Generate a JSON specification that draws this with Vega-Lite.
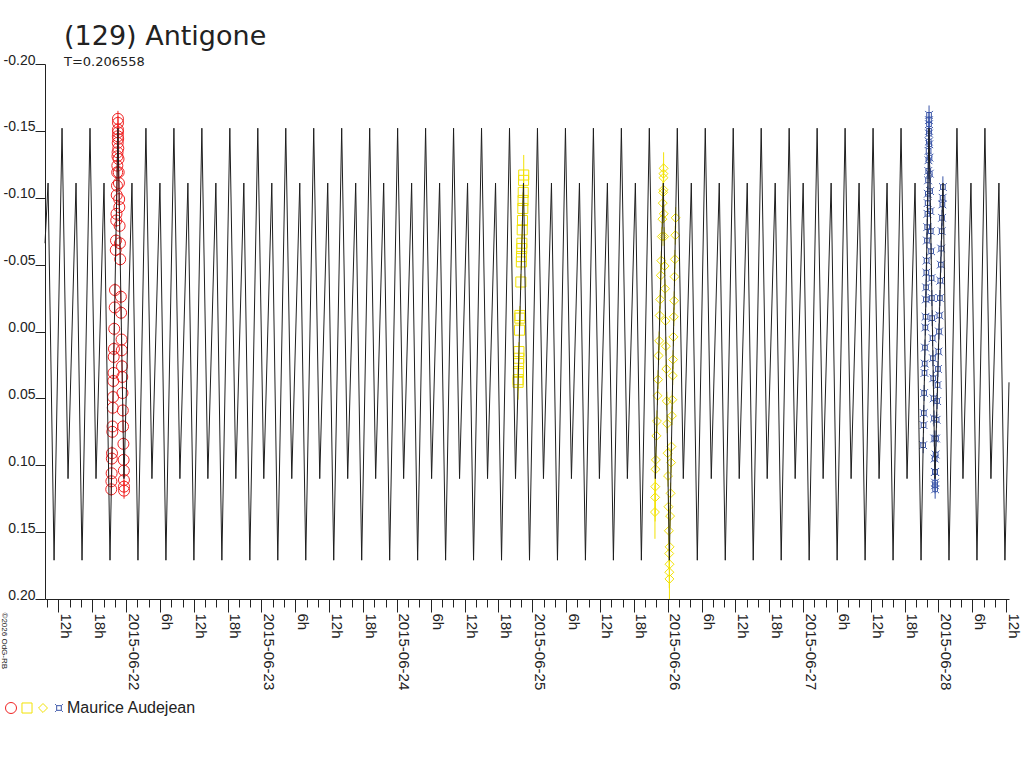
{
  "$schema": "https://vega.github.io/schema/vega-lite/v6.json",
  "description": "Light curve of (129) Antigone, period 0.206558 d, with four observing sessions by Maurice Audejean.",
  "width": 964,
  "height": 535,
  "autosize": {"type": "none"},
  "padding": {"left": 45, "top": 64, "right": 15, "bottom": 169},
  "background": "white",
  "config": {"view": {"stroke": null}, "font": "Liberation Sans"},
  "title": {
    "text": "(129) Antigone",
    "subtitle": "T=0.206558",
    "anchor": "start",
    "frame": "group",
    "dx": 19,
    "offset": -17,
    "fontSize": 27,
    "fontWeight": "normal",
    "font": "DejaVu Sans",
    "color": "#222",
    "subtitleFont": "DejaVu Sans",
    "subtitleFontSize": 13,
    "subtitleColor": "#222",
    "subtitlePadding": 5
  },
  "datasets": {
    "curve": [
      {"d": -0.599, "m": -0.066},
      {"d": -0.5763, "m": -0.111}, {"d": -0.532, "m": 0.171},
      {"d": -0.4732, "m": -0.152}, {"d": -0.4289, "m": 0.11}, {"d": -0.3698, "m": -0.111}, {"d": -0.3255, "m": 0.171},
      {"d": -0.2666, "m": -0.152}, {"d": -0.2223, "m": 0.11}, {"d": -0.1632, "m": -0.111}, {"d": -0.1189, "m": 0.171},
      {"d": -0.0601, "m": -0.152}, {"d": -0.0157, "m": 0.11}, {"d": 0.0433, "m": -0.111}, {"d": 0.0876, "m": 0.171},
      {"d": 0.1465, "m": -0.152}, {"d": 0.1908, "m": 0.11}, {"d": 0.2499, "m": -0.111}, {"d": 0.2942, "m": 0.171},
      {"d": 0.3531, "m": -0.152}, {"d": 0.3974, "m": 0.11}, {"d": 0.4564, "m": -0.111}, {"d": 0.5008, "m": 0.171},
      {"d": 0.5596, "m": -0.152}, {"d": 0.6039, "m": 0.11}, {"d": 0.663, "m": -0.111}, {"d": 0.7073, "m": 0.171},
      {"d": 0.7662, "m": -0.152}, {"d": 0.8105, "m": 0.11}, {"d": 0.8696, "m": -0.111}, {"d": 0.9139, "m": 0.171},
      {"d": 0.9727, "m": -0.152}, {"d": 1.017, "m": 0.11}, {"d": 1.0761, "m": -0.111}, {"d": 1.1204, "m": 0.171},
      {"d": 1.1793, "m": -0.152}, {"d": 1.2236, "m": 0.11}, {"d": 1.2827, "m": -0.111}, {"d": 1.327, "m": 0.171},
      {"d": 1.3858, "m": -0.152}, {"d": 1.4302, "m": 0.11}, {"d": 1.4892, "m": -0.111}, {"d": 1.5335, "m": 0.171},
      {"d": 1.5924, "m": -0.152}, {"d": 1.6367, "m": 0.11}, {"d": 1.6958, "m": -0.111}, {"d": 1.7401, "m": 0.171},
      {"d": 1.799, "m": -0.152}, {"d": 1.8433, "m": 0.11}, {"d": 1.9024, "m": -0.111}, {"d": 1.9467, "m": 0.171},
      {"d": 2.0055, "m": -0.152}, {"d": 2.0498, "m": 0.11}, {"d": 2.1089, "m": -0.111}, {"d": 2.1532, "m": 0.171},
      {"d": 2.2121, "m": -0.152}, {"d": 2.2564, "m": 0.11}, {"d": 2.3155, "m": -0.111}, {"d": 2.3598, "m": 0.171},
      {"d": 2.4186, "m": -0.152}, {"d": 2.4629, "m": 0.11}, {"d": 2.522, "m": -0.111}, {"d": 2.5663, "m": 0.171},
      {"d": 2.6252, "m": -0.152}, {"d": 2.6695, "m": 0.11}, {"d": 2.7286, "m": -0.111}, {"d": 2.7729, "m": 0.171},
      {"d": 2.8318, "m": -0.152}, {"d": 2.8761, "m": 0.11}, {"d": 2.9351, "m": -0.111}, {"d": 2.9795, "m": 0.171},
      {"d": 3.0383, "m": -0.152}, {"d": 3.0826, "m": 0.11}, {"d": 3.1417, "m": -0.111}, {"d": 3.186, "m": 0.171},
      {"d": 3.2449, "m": -0.152}, {"d": 3.2892, "m": 0.11}, {"d": 3.3483, "m": -0.111}, {"d": 3.3926, "m": 0.171},
      {"d": 3.4514, "m": -0.152}, {"d": 3.4957, "m": 0.11}, {"d": 3.5548, "m": -0.111}, {"d": 3.5991, "m": 0.171},
      {"d": 3.658, "m": -0.152}, {"d": 3.7023, "m": 0.11}, {"d": 3.7614, "m": -0.111}, {"d": 3.8057, "m": 0.171},
      {"d": 3.8645, "m": -0.152}, {"d": 3.9089, "m": 0.11}, {"d": 3.9679, "m": -0.111}, {"d": 4.0122, "m": 0.171},
      {"d": 4.0711, "m": -0.152}, {"d": 4.1154, "m": 0.11}, {"d": 4.1745, "m": -0.111}, {"d": 4.2188, "m": 0.171},
      {"d": 4.2777, "m": -0.152}, {"d": 4.322, "m": 0.11}, {"d": 4.381, "m": -0.111}, {"d": 4.4254, "m": 0.171},
      {"d": 4.4842, "m": -0.152}, {"d": 4.5285, "m": 0.11}, {"d": 4.5876, "m": -0.111}, {"d": 4.6319, "m": 0.171},
      {"d": 4.6908, "m": -0.152}, {"d": 4.7351, "m": 0.11}, {"d": 4.7942, "m": -0.111}, {"d": 4.8385, "m": 0.171},
      {"d": 4.8973, "m": -0.152}, {"d": 4.9416, "m": 0.11}, {"d": 5.0007, "m": -0.111}, {"d": 5.045, "m": 0.171},
      {"d": 5.1039, "m": -0.152}, {"d": 5.1482, "m": 0.11}, {"d": 5.2073, "m": -0.111}, {"d": 5.2516, "m": 0.171},
      {"d": 5.3105, "m": -0.152}, {"d": 5.3548, "m": 0.11}, {"d": 5.4138, "m": -0.111}, {"d": 5.4582, "m": 0.171},
      {"d": 5.517, "m": -0.152}, {"d": 5.5613, "m": 0.11}, {"d": 5.6204, "m": -0.111}, {"d": 5.6647, "m": 0.171},
      {"d": 5.7236, "m": -0.152}, {"d": 5.7679, "m": 0.11}, {"d": 5.827, "m": -0.111}, {"d": 5.8713, "m": 0.171},
      {"d": 5.9301, "m": -0.152}, {"d": 5.9744, "m": 0.11}, {"d": 6.0335, "m": -0.111}, {"d": 6.0778, "m": 0.171},
      {"d": 6.1367, "m": -0.152}, {"d": 6.181, "m": 0.11}, {"d": 6.2401, "m": -0.111}, {"d": 6.2844, "m": 0.171},
      {"d": 6.3432, "m": -0.152}, {"d": 6.3875, "m": 0.11}, {"d": 6.4466, "m": -0.111}, {"d": 6.4909, "m": 0.171},
      {"d": 6.521, "m": 0.038}
    ],
    "obs": [
      {"s": "a", "d": -0.1096, "m": 0.118, "e": 0.005}, {"s": "a", "d": -0.1087, "m": 0.112, "e": 0.005},
      {"s": "a", "d": -0.1068, "m": 0.106, "e": 0.005}, {"s": "a", "d": -0.1055, "m": 0.095, "e": 0.005},
      {"s": "a", "d": -0.1041, "m": 0.091, "e": 0.005}, {"s": "a", "d": -0.1019, "m": 0.075, "e": 0.005},
      {"s": "a", "d": -0.1004, "m": 0.071, "e": 0.005}, {"s": "a", "d": -0.0986, "m": 0.057, "e": 0.005},
      {"s": "a", "d": -0.0964, "m": 0.049, "e": 0.005}, {"s": "a", "d": -0.0949, "m": 0.037, "e": 0.005},
      {"s": "a", "d": -0.0931, "m": 0.031, "e": 0.005}, {"s": "a", "d": -0.0916, "m": 0.019, "e": 0.005},
      {"s": "a", "d": -0.0898, "m": 0.013, "e": 0.005}, {"s": "a", "d": -0.0876, "m": -0.002, "e": 0.005},
      {"s": "a", "d": -0.084, "m": -0.018, "e": 0.005}, {"s": "a", "d": -0.0821, "m": -0.031, "e": 0.005},
      {"s": "a", "d": -0.0766, "m": -0.061, "e": 0.005}, {"s": "a", "d": -0.0748, "m": -0.068, "e": 0.005},
      {"s": "a", "d": -0.0726, "m": -0.083, "e": 0.005}, {"s": "a", "d": -0.0711, "m": -0.088, "e": 0.005},
      {"s": "a", "d": -0.0693, "m": -0.102, "e": 0.005}, {"s": "a", "d": -0.0675, "m": -0.109, "e": 0.005},
      {"s": "a", "d": -0.066, "m": -0.119, "e": 0.005}, {"s": "a", "d": -0.0647, "m": -0.124, "e": 0.005},
      {"s": "a", "d": -0.0638, "m": -0.131, "e": 0.005}, {"s": "a", "d": -0.0629, "m": -0.134, "e": 0.005},
      {"s": "a", "d": -0.062, "m": -0.141, "e": 0.005}, {"s": "a", "d": -0.0611, "m": -0.146, "e": 0.005},
      {"s": "a", "d": -0.0602, "m": -0.151, "e": 0.005}, {"s": "a", "d": -0.0598, "m": -0.156, "e": 0.005},
      {"s": "a", "d": -0.0601, "m": -0.159, "e": 0.006}, {"s": "a", "d": -0.0598, "m": -0.149, "e": 0.005},
      {"s": "a", "d": -0.0586, "m": -0.144, "e": 0.005}, {"s": "a", "d": -0.0577, "m": -0.137, "e": 0.005},
      {"s": "a", "d": -0.056, "m": -0.129, "e": 0.005}, {"s": "a", "d": -0.0547, "m": -0.119, "e": 0.005},
      {"s": "a", "d": -0.053, "m": -0.111, "e": 0.005}, {"s": "a", "d": -0.0513, "m": -0.099, "e": 0.005},
      {"s": "a", "d": -0.05, "m": -0.093, "e": 0.005}, {"s": "a", "d": -0.0479, "m": -0.079, "e": 0.005},
      {"s": "a", "d": -0.0454, "m": -0.066, "e": 0.005}, {"s": "a", "d": -0.0437, "m": -0.054, "e": 0.005},
      {"s": "a", "d": -0.0386, "m": -0.026, "e": 0.005}, {"s": "a", "d": -0.0369, "m": -0.014, "e": 0.005},
      {"s": "a", "d": -0.0336, "m": 0.006, "e": 0.005}, {"s": "a", "d": -0.0319, "m": 0.014, "e": 0.005},
      {"s": "a", "d": -0.0302, "m": 0.026, "e": 0.005}, {"s": "a", "d": -0.0285, "m": 0.034, "e": 0.005},
      {"s": "a", "d": -0.0268, "m": 0.046, "e": 0.005}, {"s": "a", "d": -0.0243, "m": 0.059, "e": 0.005},
      {"s": "a", "d": -0.0226, "m": 0.071, "e": 0.005}, {"s": "a", "d": -0.02, "m": 0.084, "e": 0.005},
      {"s": "a", "d": -0.0183, "m": 0.096, "e": 0.005}, {"s": "a", "d": -0.0166, "m": 0.104, "e": 0.005},
      {"s": "a", "d": -0.0158, "m": 0.111, "e": 0.005}, {"s": "a", "d": -0.0155, "m": 0.116, "e": 0.005},
      {"s": "a", "d": -0.0152, "m": 0.119, "e": 0.006},

      {"s": "b", "d": 2.9368, "m": -0.117, "e": 0.015}, {"s": "b", "d": 2.9357, "m": -0.113, "e": 0.008},
      {"s": "b", "d": 2.9333, "m": -0.104, "e": 0.006}, {"s": "b", "d": 2.9317, "m": -0.098, "e": 0.006},
      {"s": "b", "d": 2.9301, "m": -0.092, "e": 0.006}, {"s": "b", "d": 2.9277, "m": -0.083, "e": 0.006},
      {"s": "b", "d": 2.9258, "m": -0.076, "e": 0.007}, {"s": "b", "d": 2.9232, "m": -0.066, "e": 0.006},
      {"s": "b", "d": 2.9221, "m": -0.062, "e": 0.006}, {"s": "b", "d": 2.9205, "m": -0.056, "e": 0.006},
      {"s": "b", "d": 2.9194, "m": -0.052, "e": 0.006}, {"s": "b", "d": 2.9154, "m": -0.037, "e": 0.006},
      {"s": "b", "d": 2.9087, "m": -0.012, "e": 0.007}, {"s": "b", "d": 2.9082, "m": -0.01, "e": 0.006},
      {"s": "b", "d": 2.9058, "m": -0.001, "e": 0.006}, {"s": "b", "d": 2.9015, "m": 0.015, "e": 0.007},
      {"s": "b", "d": 2.9002, "m": 0.02, "e": 0.006}, {"s": "b", "d": 2.8991, "m": 0.024, "e": 0.006},
      {"s": "b", "d": 2.8975, "m": 0.03, "e": 0.006}, {"s": "b", "d": 2.8959, "m": 0.036, "e": 0.008},
      {"s": "b", "d": 2.8953, "m": 0.038, "e": 0.013},

      {"s": "c", "d": 3.906, "m": 0.135, "e": 0.02}, {"s": "c", "d": 3.9075, "m": 0.124, "e": 0.018},
      {"s": "c", "d": 3.9085, "m": 0.116, "e": 0.02}, {"s": "c", "d": 3.9102, "m": 0.103, "e": 0.012},
      {"s": "c", "d": 3.9129, "m": 0.096, "e": 0.01}, {"s": "c", "d": 3.9169, "m": 0.078, "e": 0.008},
      {"s": "c", "d": 3.9209, "m": 0.067, "e": 0.008}, {"s": "c", "d": 3.9249, "m": 0.048, "e": 0.007},
      {"s": "c", "d": 3.929, "m": 0.036, "e": 0.007}, {"s": "c", "d": 3.933, "m": 0.018, "e": 0.007},
      {"s": "c", "d": 3.937, "m": 0.007, "e": 0.007}, {"s": "c", "d": 3.941, "m": -0.012, "e": 0.007},
      {"s": "c", "d": 3.945, "m": -0.024, "e": 0.007}, {"s": "c", "d": 3.949, "m": -0.042, "e": 0.007},
      {"s": "c", "d": 3.953, "m": -0.053, "e": 0.007}, {"s": "c", "d": 3.957, "m": -0.071, "e": 0.007},
      {"s": "c", "d": 3.961, "m": -0.084, "e": 0.007}, {"s": "c", "d": 3.9637, "m": -0.096, "e": 0.008},
      {"s": "c", "d": 3.9664, "m": -0.104, "e": 0.008}, {"s": "c", "d": 3.969, "m": -0.115, "e": 0.01},
      {"s": "c", "d": 3.97, "m": -0.122, "e": 0.012},
      {"s": "c", "d": 3.9685, "m": -0.118, "e": 0.008}, {"s": "c", "d": 3.9688, "m": -0.106, "e": 0.007},
      {"s": "c", "d": 3.9712, "m": -0.088, "e": 0.007}, {"s": "c", "d": 3.9743, "m": -0.071, "e": 0.007},
      {"s": "c", "d": 3.9775, "m": -0.049, "e": 0.007}, {"s": "c", "d": 3.9806, "m": -0.032, "e": 0.007},
      {"s": "c", "d": 3.9838, "m": -0.008, "e": 0.007}, {"s": "c", "d": 3.9869, "m": 0.011, "e": 0.007},
      {"s": "c", "d": 3.9901, "m": 0.028, "e": 0.007}, {"s": "c", "d": 3.9932, "m": 0.052, "e": 0.007},
      {"s": "c", "d": 3.9963, "m": 0.069, "e": 0.007}, {"s": "c", "d": 3.9995, "m": 0.091, "e": 0.008},
      {"s": "c", "d": 4.0026, "m": 0.108, "e": 0.008}, {"s": "c", "d": 4.0058, "m": 0.131, "e": 0.009},
      {"s": "c", "d": 4.0089, "m": 0.149, "e": 0.01}, {"s": "c", "d": 4.0113, "m": 0.166, "e": 0.012},
      {"s": "c", "d": 4.0122, "m": 0.18, "e": 0.012}, {"s": "c", "d": 4.013, "m": 0.185, "e": 0.015},
      {"s": "c", "d": 4.0135, "m": 0.174, "e": 0.01}, {"s": "c", "d": 4.0142, "m": 0.161, "e": 0.009},
      {"s": "c", "d": 4.0179, "m": 0.138, "e": 0.008}, {"s": "c", "d": 4.0215, "m": 0.121, "e": 0.008},
      {"s": "c", "d": 4.0252, "m": 0.098, "e": 0.008}, {"s": "c", "d": 4.0279, "m": 0.086, "e": 0.007},
      {"s": "c", "d": 4.0316, "m": 0.063, "e": 0.007}, {"s": "c", "d": 4.0343, "m": 0.051, "e": 0.007},
      {"s": "c", "d": 4.0371, "m": 0.033, "e": 0.007}, {"s": "c", "d": 4.0398, "m": 0.021, "e": 0.007},
      {"s": "c", "d": 4.0426, "m": 0.004, "e": 0.007}, {"s": "c", "d": 4.0453, "m": -0.011, "e": 0.007},
      {"s": "c", "d": 4.0481, "m": -0.023, "e": 0.007}, {"s": "c", "d": 4.0508, "m": -0.041, "e": 0.007},
      {"s": "c", "d": 4.0536, "m": -0.054, "e": 0.007}, {"s": "c", "d": 4.0563, "m": -0.072, "e": 0.007},
      {"s": "c", "d": 4.059, "m": -0.085, "e": 0.008},

      {"s": "d", "d": 5.887, "m": 0.085, "e": 0.006}, {"s": "d", "d": 5.8898, "m": 0.07, "e": 0.006},
      {"s": "d", "d": 5.8916, "m": 0.061, "e": 0.006}, {"s": "d", "d": 5.8942, "m": 0.046, "e": 0.006},
      {"s": "d", "d": 5.8969, "m": 0.031, "e": 0.006}, {"s": "d", "d": 5.8982, "m": 0.024, "e": 0.006},
      {"s": "d", "d": 5.9004, "m": 0.012, "e": 0.006}, {"s": "d", "d": 5.9031, "m": -0.003, "e": 0.006},
      {"s": "d", "d": 5.9046, "m": -0.011, "e": 0.006}, {"s": "d", "d": 5.907, "m": -0.024, "e": 0.006},
      {"s": "d", "d": 5.9086, "m": -0.033, "e": 0.006}, {"s": "d", "d": 5.9106, "m": -0.044, "e": 0.006},
      {"s": "d", "d": 5.9123, "m": -0.053, "e": 0.006}, {"s": "d", "d": 5.915, "m": -0.068, "e": 0.006},
      {"s": "d", "d": 5.9169, "m": -0.078, "e": 0.006}, {"s": "d", "d": 5.9187, "m": -0.088, "e": 0.006},
      {"s": "d", "d": 5.9202, "m": -0.096, "e": 0.006}, {"s": "d", "d": 5.9214, "m": -0.103, "e": 0.006},
      {"s": "d", "d": 5.9233, "m": -0.113, "e": 0.006}, {"s": "d", "d": 5.9246, "m": -0.12, "e": 0.006},
      {"s": "d", "d": 5.926, "m": -0.128, "e": 0.006}, {"s": "d", "d": 5.9273, "m": -0.135, "e": 0.006},
      {"s": "d", "d": 5.9286, "m": -0.142, "e": 0.006}, {"s": "d", "d": 5.9297, "m": -0.148, "e": 0.006},
      {"s": "d", "d": 5.9302, "m": -0.155, "e": 0.006}, {"s": "d", "d": 5.9305, "m": -0.162, "e": 0.007},
      {"s": "d", "d": 5.93, "m": -0.158, "e": 0.006}, {"s": "d", "d": 5.9304, "m": -0.15, "e": 0.006},
      {"s": "d", "d": 5.9321, "m": -0.14, "e": 0.006}, {"s": "d", "d": 5.9338, "m": -0.13, "e": 0.006},
      {"s": "d", "d": 5.9359, "m": -0.118, "e": 0.006}, {"s": "d", "d": 5.9381, "m": -0.105, "e": 0.006},
      {"s": "d", "d": 5.9406, "m": -0.09, "e": 0.006}, {"s": "d", "d": 5.9431, "m": -0.075, "e": 0.006},
      {"s": "d", "d": 5.9457, "m": -0.06, "e": 0.006}, {"s": "d", "d": 5.949, "m": -0.04, "e": 0.006},
      {"s": "d", "d": 5.9516, "m": -0.025, "e": 0.006}, {"s": "d", "d": 5.9541, "m": -0.01, "e": 0.006},
      {"s": "d", "d": 5.9567, "m": 0.005, "e": 0.006}, {"s": "d", "d": 5.9592, "m": 0.02, "e": 0.006},
      {"s": "d", "d": 5.9617, "m": 0.035, "e": 0.006}, {"s": "d", "d": 5.9643, "m": 0.05, "e": 0.006},
      {"s": "d", "d": 5.9668, "m": 0.065, "e": 0.006}, {"s": "d", "d": 5.9693, "m": 0.08, "e": 0.006},
      {"s": "d", "d": 5.9719, "m": 0.095, "e": 0.006}, {"s": "d", "d": 5.9736, "m": 0.105, "e": 0.006},
      {"s": "d", "d": 5.975, "m": 0.113, "e": 0.006}, {"s": "d", "d": 5.9755, "m": 0.118, "e": 0.007},
      {"s": "d", "d": 5.9748, "m": 0.115, "e": 0.006}, {"s": "d", "d": 5.9757, "m": 0.105, "e": 0.006},
      {"s": "d", "d": 5.9792, "m": 0.092, "e": 0.006}, {"s": "d", "d": 5.9824, "m": 0.08, "e": 0.006},
      {"s": "d", "d": 5.9862, "m": 0.066, "e": 0.006}, {"s": "d", "d": 5.9899, "m": 0.052, "e": 0.006},
      {"s": "d", "d": 5.9931, "m": 0.04, "e": 0.006}, {"s": "d", "d": 5.9963, "m": 0.028, "e": 0.006},
      {"s": "d", "d": 5.9998, "m": 0.015, "e": 0.006}, {"s": "d", "d": 6.0038, "m": 0.0, "e": 0.006},
      {"s": "d", "d": 6.007, "m": -0.012, "e": 0.006}, {"s": "d", "d": 6.0105, "m": -0.025, "e": 0.006},
      {"s": "d", "d": 6.014, "m": -0.038, "e": 0.006}, {"s": "d", "d": 6.0172, "m": -0.05, "e": 0.006},
      {"s": "d", "d": 6.0204, "m": -0.062, "e": 0.006}, {"s": "d", "d": 6.0239, "m": -0.075, "e": 0.006},
      {"s": "d", "d": 6.0265, "m": -0.085, "e": 0.006}, {"s": "d", "d": 6.0292, "m": -0.095, "e": 0.006},
      {"s": "d", "d": 6.0305, "m": -0.1, "e": 0.007}, {"s": "d", "d": 6.0327, "m": -0.108, "e": 0.008}
    ]
  },
  "encoding": {
    "x": {
      "field": "d",
      "type": "quantitative",
      "scale": {"domain": [-0.599, 6.521], "nice": false, "zero": false},
      "axis": {
        "title": null,
        "grid": false,
        "values": [-0.5833, -0.5, -0.4167, -0.3333, -0.25, -0.1667, -0.0833,
          0, 0.0833, 0.1667, 0.25, 0.3333, 0.4167, 0.5, 0.5833, 0.6667, 0.75, 0.8333, 0.9167,
          1, 1.0833, 1.1667, 1.25, 1.3333, 1.4167, 1.5, 1.5833, 1.6667, 1.75, 1.8333, 1.9167,
          2, 2.0833, 2.1667, 2.25, 2.3333, 2.4167, 2.5, 2.5833, 2.6667, 2.75, 2.8333, 2.9167,
          3, 3.0833, 3.1667, 3.25, 3.3333, 3.4167, 3.5, 3.5833, 3.6667, 3.75, 3.8333, 3.9167,
          4, 4.0833, 4.1667, 4.25, 4.3333, 4.4167, 4.5, 4.5833, 4.6667, 4.75, 4.8333, 4.9167,
          5, 5.0833, 5.1667, 5.25, 5.3333, 5.4167, 5.5, 5.5833, 5.6667, 5.75, 5.8333, 5.9167,
          6, 6.0833, 6.1667, 6.25, 6.3333, 6.4167, 6.5],
        "tickSize": {"condition": {"test": "round(datum.value*24) % 6 == 0", "value": 13}, "value": 8},
        "tickColor": "#222",
        "domainColor": "#222",
        "labelAngle": 90,
        "labelAlign": "left",
        "labelBaseline": "middle",
        "labelOffset": 7,
        "labelPadding": 1,
        "labelFont": "Liberation Sans",
        "labelFontSize": 15,
        "labelColor": "#222",
        "labelOverlap": false,
        "labelBound": false,
        "labelExpr": "round(datum.value*24) % 24 == 0 ? '2015-06-' + (22 + round(datum.value)) : (round(datum.value*24) % 6 == 0 ? ((round(datum.value*24) % 24 + 24) % 24) + 'h' : '')"
      }
    },
    "y": {
      "field": "m",
      "type": "quantitative",
      "scale": {"domain": [-0.2, 0.2], "reverse": true, "nice": false, "zero": false},
      "axis": {
        "title": "©2026 OdG-RB",
        "titleAngle": 90,
        "titleX": -42,
        "titleY": 548,
        "titleAlign": "left",
        "titleBaseline": "middle",
        "titleFontSize": 8,
        "titleFontWeight": "normal",
        "titleFont": "Liberation Sans",
        "titleColor": "#222",
        "grid": false,
        "values": [-0.2, -0.15, -0.1, -0.05, 0, 0.05, 0.1, 0.15, 0.2],
        "tickSize": 10,
        "tickColor": "#222",
        "domainColor": "#222",
        "labelPadding": 0,
        "labelAlign": "right",
        "labelBaseline": "alphabetic",
        "labelFont": "Liberation Sans",
        "labelFontSize": 14,
        "labelColor": "#222",
        "labelBound": false,
        "labelExpr": "(datum.value < 0 ? '-' : '') + format(abs(datum.value), '.2f')"
      }
    },
    "color": {
      "field": "s", "type": "nominal",
      "scale": {"domain": ["a", "b", "c", "d"], "range": ["#f02424", "#f2e205", "#f2e205", "#3a55a8"]},
      "legend": {
        "title": null, "orient": "none", "legendX": -42, "legendY": 636,
        "direction": "horizontal", "columns": 4, "columnPadding": 0, "labelOffset": 0,
        "symbolStrokeWidth": 1, "labelFont": "Liberation Sans", "labelFontSize": 16, "labelColor": "#222",
        "labelExpr": "datum.value == 'd' ? 'Maurice Audejean' : ''"
      }
    }
  },
  "layer": [
    {
      "data": {"name": "obs"},
      "mark": {"type": "point", "filled": false, "strokeWidth": 1, "opacity": 1},
      "encoding": {
        "shape": {
          "field": "s", "type": "nominal",
          "scale": {"domain": ["a", "b", "c", "d"], "range": ["circle", "square", "diamond", "M-0.6,-0.6L0.6,-0.6L0.6,0.6L-0.6,0.6Z M-1,-1L-0.6,-0.6 M1,-1L0.6,-0.6 M1,1L0.6,0.6 M-1,1L-0.6,0.6"]},
          "legend": {
            "title": null, "orient": "none", "legendX": -42, "legendY": 636,
            "direction": "horizontal", "columns": 4, "columnPadding": 0, "labelOffset": 0,
            "symbolStrokeWidth": 1, "labelFont": "Liberation Sans", "labelFontSize": 16, "labelColor": "#222",
            "labelExpr": "datum.value == 'd' ? 'Maurice Audejean' : ''"
          }
        },
        "size": {
          "field": "s", "type": "nominal",
          "scale": {"domain": ["a", "b", "c", "d"], "range": [121, 60, 100, 70]},
          "legend": {
            "title": null, "orient": "none", "legendX": -42, "legendY": 636,
            "direction": "horizontal", "columns": 4, "columnPadding": 0, "labelOffset": 0,
            "symbolStrokeWidth": 1, "labelFont": "Liberation Sans", "labelFontSize": 16, "labelColor": "#222",
            "labelExpr": "datum.value == 'd' ? 'Maurice Audejean' : ''"
          }
        }
      }
    },
    {
      "data": {"name": "obs"},
      "mark": {"type": "errorbar", "thickness": 1},
      "encoding": {
        "yError": {"field": "e"}
      }
    },
    {
      "data": {"name": "curve"},
      "mark": {"type": "line", "color": "#1e1e1e", "strokeWidth": 1},
      "encoding": {"color": {"value": "#1e1e1e"}}
    }
  ]
}
